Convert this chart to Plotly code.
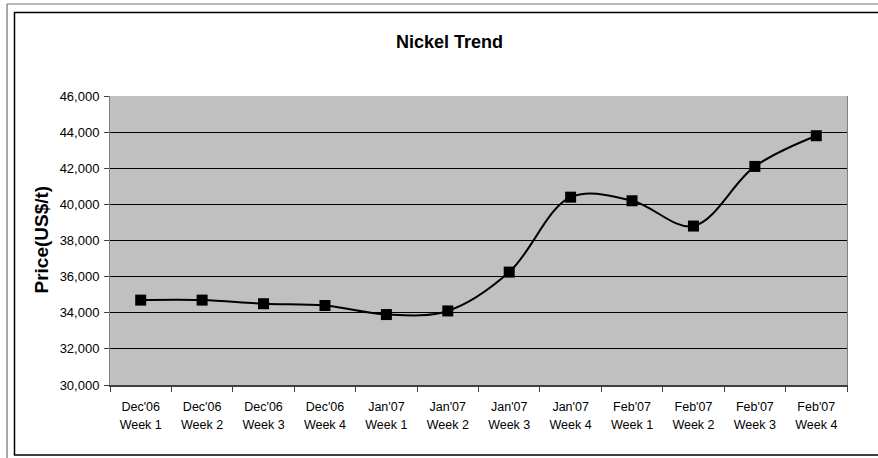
import plotly.graph_objects as go

# Weekly nickel prices, Dec 2006 - Feb 2007
months = ["Dec'06", "Dec'06", "Dec'06", "Dec'06",
          "Jan'07", "Jan'07", "Jan'07", "Jan'07",
          "Feb'07", "Feb'07", "Feb'07", "Feb'07"]
weeks = ["Week 1", "Week 2", "Week 3", "Week 4",
         "Week 1", "Week 2", "Week 3", "Week 4",
         "Week 1", "Week 2", "Week 3", "Week 4"]
prices = [34700, 34700, 34500, 34400, 33900, 34100,
          36250, 40400, 40200, 38800, 42100, 43800]
y_range = [30000, 46000]
y_step = 2000

W, H = 878, 458
ML, MR, MT, MB = 110, 31, 96, 73
FONT = "Arial, Liberation Sans, sans-serif"


def px(x):
    return (x - ML) / (W - ML - MR)


def py(y):
    return (H - MB - y) / (H - MT - MB)


xs = list(range(len(prices)))
x_range = [-0.5, len(prices) - 0.5]

fig = go.Figure()
fig.add_trace(go.Scatter(
    x=xs, y=prices, mode="lines+markers",
    line=dict(color="black", width=2, shape="spline", smoothing=1.0),
    marker=dict(symbol="square", size=11, color="black"),
    showlegend=False, hoverinfo="y",
))
# carrier trace for the second row of category labels
fig.add_trace(go.Scatter(
    x=xs, y=prices, xaxis="x2", mode="lines",
    line=dict(width=0, color="rgba(0,0,0,0)"),
    showlegend=False, hoverinfo="skip",
))

fig.update_layout(
    width=W, height=H,
    margin=dict(l=ML, r=MR, t=MT, b=MB, autoexpand=False),
    paper_bgcolor="white", plot_bgcolor="#C0C0C0",
    font=dict(family=FONT, color="black"),
    xaxis=dict(
        range=x_range, tickmode="array", tickvals=xs, ticktext=months,
        ticks="", showgrid=False, zeroline=False,
        showline=True, linecolor="#404040", linewidth=2,
        tickfont=dict(size=12.5, color="black"),
        ticklabelstandoff=9,
        minor=dict(tickmode="linear", tick0=-0.5, dtick=1, ticks="outside",
                   ticklen=5, tickwidth=1, tickcolor="#404040", showgrid=False),
    ),
    xaxis2=dict(
        range=x_range, overlaying="x", anchor="y", side="bottom",
        tickmode="array", tickvals=xs, ticktext=weeks,
        ticks="", showgrid=False, zeroline=False, showline=False,
        tickfont=dict(size=12.5, color="black"),
        ticklabelstandoff=30,
    ),
    yaxis=dict(
        range=y_range, dtick=y_step, tick0=y_range[0], tickformat=",d",
        ticks="outside", ticklen=5, tickcolor="#404040",
        showgrid=True, gridcolor="black", gridwidth=1, zeroline=False,
        showline=True, linecolor="#808080", linewidth=1, mirror=True,
        tickfont=dict(size=13, color="black"),
        ticklabelstandoff=2,
    ),
    annotations=[
        dict(text="<b>Nickel Trend</b>", xref="paper", yref="paper",
             x=px(449), y=py(42), xanchor="center", yanchor="middle",
             showarrow=False, font=dict(size=18, family=FONT, color="black")),
        dict(text="<b>Price(US$/t)</b>", xref="paper", yref="paper",
             x=px(40.5), y=py(240), xanchor="center", yanchor="middle",
             textangle=-90, showarrow=False,
             font=dict(size=19, family=FONT, color="black")),
    ],
    shapes=[
        # outer page rule
        dict(type="line", xref="paper", yref="paper",
             x0=px(7), x1=px(7), y0=py(4), y1=py(470),
             line=dict(color="#555555", width=1)),
        dict(type="line", xref="paper", yref="paper",
             x0=px(7), x1=px(900), y0=py(4), y1=py(4),
             line=dict(color="#777777", width=1)),
        # chart area frame
        dict(type="rect", xref="paper", yref="paper",
             x0=px(14.5), x1=px(900), y0=py(12.5), y1=py(455),
             line=dict(color="black", width=1.5)),
    ],
)

fig.write_html("out.html")
